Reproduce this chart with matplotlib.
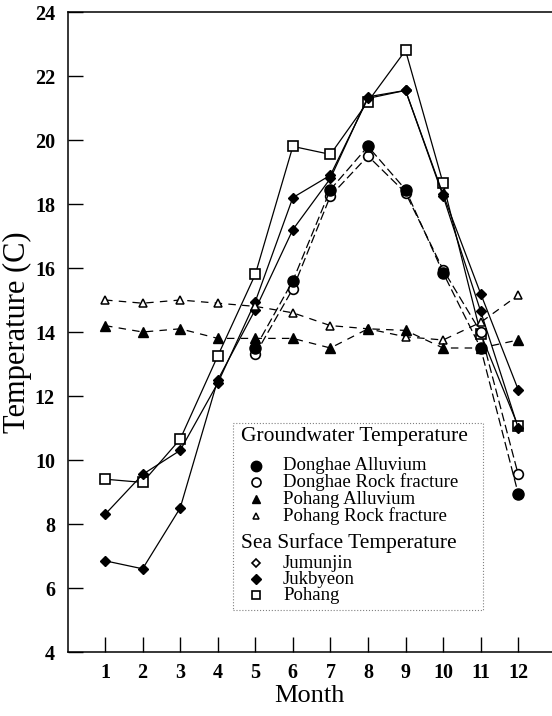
import matplotlib.pyplot as plt
from matplotlib.patches import Rectangle
from matplotlib.lines import Line2D

plt.rcParams['font.family'] = ['Liberation Serif', 'DejaVu Serif']

# 数据
months = list(range(1, 13))
gw_months = list(range(5, 13))

donghae_alluvium = [13.5, 15.6, 18.45, 19.8, 18.45, 15.85, 13.5, 8.95]
donghae_rock = [13.3, 15.35, 18.25, 19.5, 18.35, 15.95, 14.0, 9.55]
pohang_alluvium = [14.2, 14.0, 14.1, 13.8, 13.8, 13.8, 13.5, 14.1, 14.05, 13.5, 13.5, 13.75]
pohang_rock = [15.0, 14.9, 15.0, 14.9, 14.8, 14.6, 14.2, 14.1, 13.85, 13.75, 14.3, 15.15]

sst_jumunjin = [6.85, 6.6, 8.5, 12.5, 14.7, 17.2, 18.8, 21.35, 21.55, 18.25, 14.65, 11.0]
sst_jukbyeon = [8.3, 9.55, 10.3, 12.4, 14.95, 18.2, 18.9, 21.3, 21.55, 18.3, 15.2, 12.2]
sst_pohang = [9.4, 9.3, 10.65, 13.25, 15.8, 19.8, 19.55, 21.2, 22.8, 18.65, 13.95, 11.05]

W, H = 552, 716
fig = plt.figure(figsize=(W / 100, H / 100), dpi=100)
ax = fig.add_axes([67.5 / W, 1 - 652 / H, 1 - 67.5 / W, (652 - 12) / H])

lw = 0.9
# 海表温度 实线
ax.plot(months, sst_pohang, '-', color='black', lw=lw, marker='s', ms=6.5,
        mfc='white', mec='black', mew=1.2, zorder=3)
ax.plot(months, sst_jukbyeon, '-', color='black', lw=lw, marker='D', ms=5.5,
        mfc='black', mec='black', zorder=3)
ax.plot(months, sst_jumunjin, '-', color='black', lw=lw, marker='D', ms=5,
        mfc='black', mec='black', zorder=3)

# 地下水温度 虚线
ax.plot(months, pohang_rock, color='black', lw=lw, ls=(0, (6, 5)), marker='^', ms=6,
        mfc='white', mec='black', mew=1.1, zorder=4)
ax.plot(months, pohang_alluvium, color='black', lw=lw, ls=(0, (6, 5)), marker='^', ms=6.5,
        mfc='black', mec='black', zorder=4)
ax.plot(gw_months, donghae_rock, color='black', lw=lw, ls=(0, (7, 3)), marker='o', ms=7,
        mfc='white', mec='black', mew=1.2, zorder=4)
ax.plot(gw_months, donghae_alluvium, color='black', lw=lw, ls=(0, (7, 3)), marker='o', ms=8,
        mfc='black', mec='black', zorder=5)

ax.set_xlim(0, 12.9)
ax.set_ylim(4, 24)
ax.set_xticks(months)
ax.set_yticks(range(4, 25, 2))
ax.tick_params(direction='in', length=11, width=1, labelsize=14.5, pad=8)
ax.tick_params(axis='y', pad=9)
for lab in ax.get_xticklabels() + ax.get_yticklabels():
    lab.set_fontweight('bold')
ax.spines['right'].set_visible(False)
for s in ['left', 'bottom', 'top']:
    ax.spines[s].set_linewidth(1.1)
ax.set_xlabel('Month', fontsize=19, labelpad=1)
ax.set_ylabel('Temperature (C)', fontsize=22, labelpad=2)


# 图例（手工画）
def px(x, y):
    return x / W, 1 - y / H


x0, y0 = px(233, 610)
x1, y1 = px(483, 423)
fig.patches.append(Rectangle((x0, y0), x1 - x0, y1 - y0, transform=fig.transFigure,
                             facecolor='white', edgecolor='gray', lw=0.8, ls=':', zorder=10))

fig.text(*px(241, 437), 'Groundwater Temperature', fontsize=15.5, va='center', zorder=11)
fig.text(*px(241, 543), 'Sea Surface Temperature', fontsize=15.5, va='center', zorder=11)

entries = [
    (466, 'Donghae Alluvium', dict(marker='o', ms=7.5, mfc='black', mec='black')),
    (482, 'Donghae Rock fracture', dict(marker='o', ms=6.5, mfc='white', mec='black', mew=1.2)),
    (499, 'Pohang Alluvium', dict(marker='^', ms=6, mfc='black', mec='black')),
    (516, 'Pohang Rock fracture', dict(marker='^', ms=5, mfc='white', mec='black', mew=1.1)),
    (563, 'Jumunjin', dict(marker='D', ms=4.5, mfc='white', mec='black', mew=1.2)),
    (579, 'Jukbyeon', dict(marker='D', ms=5, mfc='black', mec='black')),
    (595, 'Pohang', dict(marker='s', ms=5.5, mfc='white', mec='black', mew=1.2)),
]
for ypx, label, style in entries:
    mx, my = px(256, ypx)
    fig.add_artist(Line2D([mx], [my], transform=fig.transFigure, ls='none', zorder=11, **style))
    fig.text(*px(283, ypx), label, fontsize=13.5, va='center', zorder=11)

fig.savefig('out.png', dpi=100)
